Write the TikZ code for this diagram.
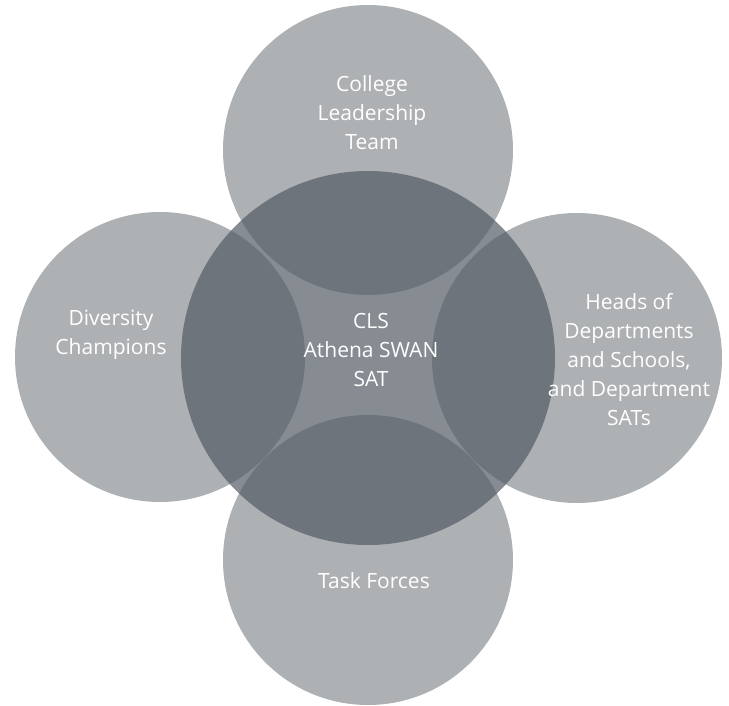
\documentclass[tikz,border=0pt]{standalone}
\usepackage{fontspec}
\setmainfont{Open Sans}
\begin{document}
\begin{tikzpicture}[x=1pt,y=-1pt,
  outer/.style={circle, fill=outergray, draw=none, minimum size=290pt, inner sep=0pt},
  core/.style={circle, fill=coregray, fill opacity=0.7, draw=none, minimum size=374pt, inner sep=0pt},
  lbl/.style={text=white, align=center, font=\fontsize{21}{29}\selectfont, inner sep=0pt}
]
\definecolor{outergray}{RGB}{173,177,180}
\definecolor{coregray}{RGB}{82,91,100}
\useasboundingbox (0,0) rectangle (729,706);
% four surrounding circles
\node[outer] (top) at (368,150) {};
\node[outer] (left) at (160,357) {};
\node[outer] (right) at (577,358) {};
\node[outer] (bottom) at (368,560) {};
% translucent central circle
\node[core] (core) at (368,358) {};
% labels
\node[lbl] (toptext) at (372,113) {College\\Leadership\\Team};
\node[lbl] (coretext) at (371,350) {CLS\\Athena SWAN\\SAT};
\node[lbl] (lefttext) at (111,335) {Diversity\\Champions};
\node[lbl] (righttext) at (629,360) {Heads of\\Departments\\and Schools,\\and Department\\SATs};
\node[lbl] (bottomtext) at (374,581) {Task Forces};
\end{tikzpicture}
\end{document}
